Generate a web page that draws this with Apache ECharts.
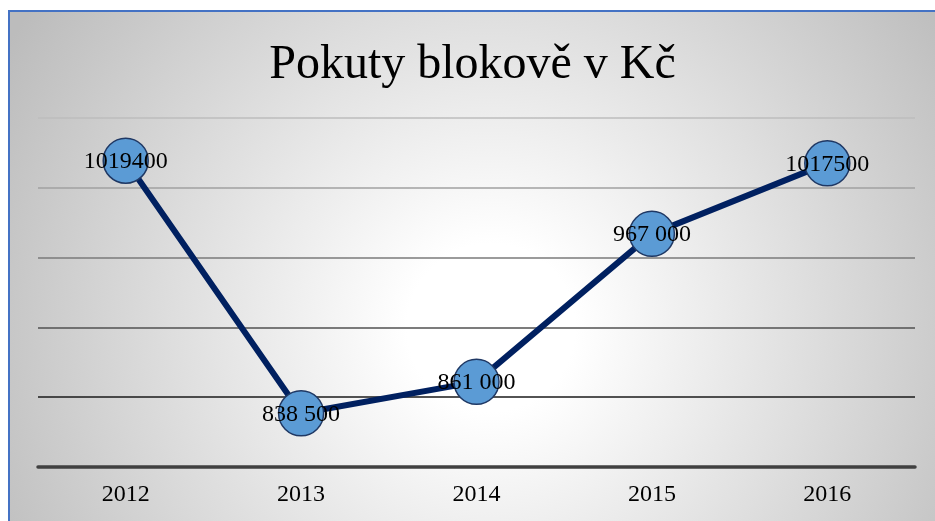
<!DOCTYPE html>
<html>
<head>
<meta charset="utf-8">
<script src="https://cdn.jsdelivr.net/npm/echarts@6/dist/echarts.min.js"></script>
<style>
  html, body { margin: 0; padding: 0; background: #fff; overflow: hidden; }
  .frame {
    position: absolute;
    left: 8px;
    top: 10px;
    width: 927px;
    height: 511px;
    border-left: 2px solid #4472c4;
    border-top: 2px solid #4472c4;
  }
  #chart { width: 925px; height: 509px; }
</style>
</head>
<body>
<div class="frame"><div id="chart"></div></div>
<script>
const years = ["2012", "2013", "2014", "2015", "2016"];
const fines = [1019400, 838500, 861000, 967000, 1017500];
// labels written as they appear on the slide (mixed formatting)
const fineLabels = ["1019400", "838 500", "861 000", "967 000", "1017500"];

const yMin = 800000;
const yMax = 1050000;
const yStep = 50000;

const chart = echarts.init(document.getElementById("chart"));

const option = {
  backgroundColor: {
    type: "radial",
    x: 0.52,
    y: 0.62,
    r: 1.1,
    colorStops: [
      { offset: 0, color: "#ffffff" },
      { offset: 0.15, color: "#ffffff" },
      { offset: 1, color: "#bcbcbc" }
    ]
  },
  title: {
    text: "Pokuty blokově v Kč",
    left: "center",
    top: 29,
    padding: 0,
    textStyle: {
      fontFamily: "Liberation Serif",
      fontSize: 48,
      fontWeight: "normal",
      color: "#000"
    }
  },
  grid: { left: 28, right: 20, top: 106, bottom: 54 },
  xAxis: {
    type: "category",
    data: years,
    boundaryGap: true,
    axisLine: { lineStyle: { color: "#404040", width: 3.5 } },
    axisTick: { show: false },
    axisLabel: {
      margin: 16,
      fontFamily: "Liberation Serif",
      fontSize: 24,
      color: "#000"
    }
  },
  yAxis: {
    type: "value",
    min: yMin,
    max: yMax,
    interval: yStep,
    axisLine: { show: false },
    axisTick: { show: false },
    axisLabel: { show: false },
    splitLine: {
      lineStyle: {
        width: 1.5,
        // bottom line is under the axis; lines fade from black to light grey going up
        color: ["#404040", "#1a1a1a", "#505050", "#7a7a7a", "#a0a0a0", "#bcbcbc"]
      }
    }
  },
  series: [
    {
      type: "line",
      data: fines,
      symbol: "circle",
      symbolSize: 45,
      lineStyle: { color: "#002060", width: 6 },
      itemStyle: { color: "#5b9bd5", borderColor: "#1f3864", borderWidth: 1.5 },
      label: {
        show: true,
        position: "inside",
        offset: [0, 1],
        fontFamily: "Liberation Serif",
        fontSize: 24,
        color: "#000",
        formatter: p => fineLabels[p.dataIndex]
      },
      emphasis: { disabled: true },
      animation: false
    }
  ]
};

chart.setOption(option);
</script>
</body>
</html>
